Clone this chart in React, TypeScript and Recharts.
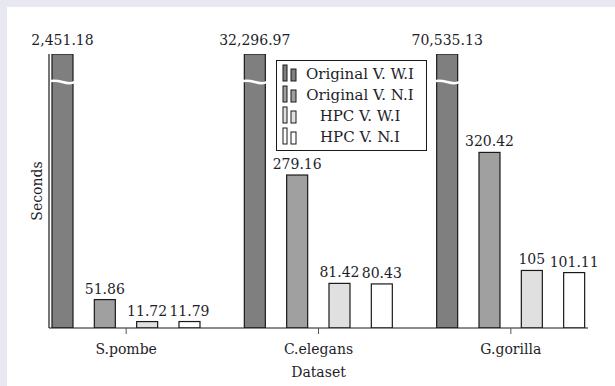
import React from 'react';
import { BarChart, Bar, XAxis, YAxis, Legend, LabelList } from 'recharts';

// Run times (seconds) per dataset and program version
const datasets = ['S.pombe', 'C.elegans', 'G.gorilla'];
const originalWI = [2451.18, 32296.97, 70535.13];
const originalNI = [51.86, 279.16, 320.42];
const hpcWI = [11.72, 81.42, 105];
const hpcNI = [11.79, 80.43, 101.11];

const seriesNames = ['Original V. W.I', 'Original V. N.I', 'HPC V. W.I', 'HPC V. N.I'];
const seriesKeys = ['owi', 'oni', 'hwi', 'hni'];
const seriesFills = ['#7f7f7f', '#a0a0a0', '#e0e0e0', '#ffffff'];

// Visible y range; taller bars are cut with a break mark
const Y_MAX = 500;

const data = datasets.map((name, i) => ({
  name,
  owi: originalWI[i],
  oni: originalNI[i],
  hwi: hpcWI[i],
  hni: hpcNI[i],
}));

const FONT = 'DejaVu Serif';
const INK = '#1e1e2a';
const MARGIN = { top: 47, right: 27, bottom: 28, left: 12 };
const PLOT_TOP = MARGIN.top;

const fmt = (v: number) => v.toLocaleString('en-US', { maximumFractionDigits: 2 });

function BrokenBar(props: any) {
  const { x, y, width, height, fill } = props;
  const bottom = y + height;
  const over = y < PLOT_TOP - 0.5;
  const top = over ? PLOT_TOP : y;
  const yw = PLOT_TOP + 28;
  return (
    <g>
      <rect x={x} y={top} width={width} height={bottom - top} fill={fill} stroke="#1a1a1a" strokeWidth={1.2} />
      {over && (
        <path
          d={`M ${x - 4} ${yw} C ${x + width * 0.3} ${yw - 5}, ${x + width * 0.7} ${yw + 5}, ${x + width + 1.5} ${yw}`}
          fill="none"
          stroke="#ffffff"
          strokeWidth={2.6}
        />
      )}
    </g>
  );
}

function ValueLabel(props: any) {
  const { x, y, width, value } = props;
  const over = value > Y_MAX;
  const top = over ? PLOT_TOP : y;
  return (
    <text
      x={x + width / 2}
      y={top - (over ? 9 : 6)}
      textAnchor="middle"
      fontFamily={FONT}
      fontSize={14}
      fill={INK}
    >
      {fmt(value)}
    </text>
  );
}

function LegendBox() {
  return (
    <svg width={151} height={91} style={{ display: 'block' }}>
      <rect x={0.5} y={0.5} width={150} height={90} fill="#ffffff" stroke="#1a1a1a" strokeWidth={1} />
      {seriesNames.map((name, i) => {
        const cy = 13 + i * 21;
        return (
          <g key={name}>
            <rect x={7} y={cy - 8} width={4} height={16} fill={seriesFills[i]} stroke="#1a1a1a" strokeWidth={1} />
            <rect x={15} y={cy - 4} width={5} height={12} fill={seriesFills[i]} stroke="#1a1a1a" strokeWidth={1} />
            <text x={84} y={cy + 5.5} textAnchor="middle" fontFamily={FONT} fontSize={15} fill={INK}>
              {name}
            </text>
          </g>
        );
      })}
    </svg>
  );
}

export default function App() {
  return (
    <div style={{ position: 'fixed', inset: 0, background: '#e8e8f3' }}>
      <div style={{ position: 'absolute', left: 7, top: 7, width: 608, height: 379, background: '#ffffff' }}>
        <BarChart
          width={608}
          height={379}
          data={data}
          margin={MARGIN}
          barSize={21}
          barGap={21.33}
        >
          <XAxis
            dataKey="name"
            padding={{ left: -19, right: -19 }}
            height={30}
            tickSize={6}
            tickMargin={10}
            axisLine={{ stroke: '#1a1a1a', strokeWidth: 1.2 }}
            tickLine={{ stroke: '#555', strokeWidth: 1 }}
            tick={{ fill: INK, fontSize: 14, fontFamily: FONT }}
            label={(p: any) => {
              const vb = p.viewBox;
              return (
                <text
                  x={vb.x + vb.width / 2}
                  y={vb.y + 49}
                  textAnchor="middle"
                  fontFamily={FONT}
                  fontSize={14}
                  fill={INK}
                >
                  Dataset
                </text>
              );
            }}
          />
          <YAxis
            domain={[0, Y_MAX]}
            allowDataOverflow
            width={30}
            tick={false}
            tickLine={false}
            axisLine={{ stroke: '#1a1a1a', strokeWidth: 1.2 }}
            label={(p: any) => {
              const vb = p.viewBox;
              const cx = vb.x + 18;
              const cy = vb.y + vb.height / 2;
              return (
                <text
                  x={cx}
                  y={cy}
                  transform={`rotate(-90 ${cx} ${cy})`}
                  textAnchor="middle"
                  dominantBaseline="central"
                  fontFamily={FONT}
                  fontSize={14}
                  fill={INK}
                >
                  Seconds
                </text>
              );
            }}
          />
          <Legend
            layout="horizontal"
            verticalAlign="middle"
            align="center"
            content={() => <LegendBox />}
            wrapperStyle={{ position: 'absolute', left: 269, top: 53, width: 151, height: 91 }}
          />
          {seriesKeys.map((key, i) => (
            <Bar
              key={key}
              dataKey={key}
              name={seriesNames[i]}
              fill={seriesFills[i]}
              isAnimationActive={false}
              shape={(p: any) => <BrokenBar {...p} />}
            >
              <LabelList dataKey={key} content={(p: any) => <ValueLabel {...p} />} />
            </Bar>
          ))}
        </BarChart>
      </div>
    </div>
  );
}
